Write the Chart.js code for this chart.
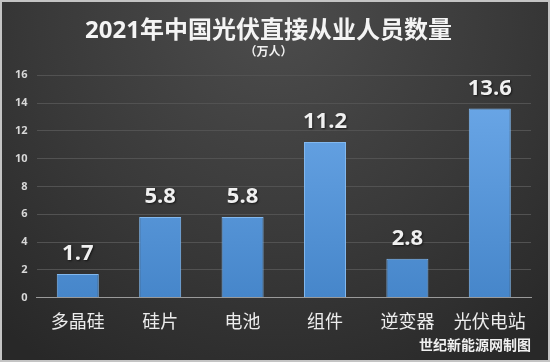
<!DOCTYPE html>
<html>
<head>
<meta charset="utf-8">
<script src="https://cdn.jsdelivr.net/npm/chart.js@4"></script>
<style>
  html, body { margin: 0; padding: 0; background: #d0d0d0; }
  #wrap { width: 550px; height: 362px; }
</style>
</head>
<body>
<div id="wrap"><canvas id="chart" width="550" height="362"></canvas></div>
<script>
// Data
const categories = ['多晶硅', '硅片', '电池', '组件', '逆变器', '光伏电站'];
const workers = [1.7, 5.8, 5.8, 11.2, 2.8, 13.6];
const yTicks = [0, 2, 4, 6, 8, 10, 12, 14, 16];

const FONT = '"Open Sans", "Noto Sans CJK SC", sans-serif';

// Dark radial background with light frame
const backgroundPlugin = {
    id: 'bg',
    beforeDraw(chart) {
        const c = chart.ctx;
        const w = chart.width, h = chart.height;
        c.save();
        c.fillStyle = '#c4c4c4';
        c.fillRect(0, 0, w, h);
        const g = c.createRadialGradient(w / 2, 10, 10, w / 2, 10, 420);
        g.addColorStop(0, '#4c4c4c');
        g.addColorStop(0.55, '#393939');
        g.addColorStop(1, '#282828');
        c.fillStyle = g;
        c.fillRect(2, 2, w - 4, h - 4);
        c.restore();
    }
};

// Value labels above each bar
const valueLabels = {
    id: 'valueLabels',
    afterDatasetsDraw(chart) {
        const c = chart.ctx;
        const meta = chart.getDatasetMeta(0);
        c.save();
        c.font = 'bold 22px ' + FONT;
        c.fillStyle = '#f0f0f0';
        c.textAlign = 'center';
        c.textBaseline = 'alphabetic';
        c.shadowColor = 'rgba(0,0,0,0.6)';
        c.shadowOffsetX = 1;
        c.shadowOffsetY = 1;
        c.shadowBlur = 2;
        meta.data.forEach((bar, i) => {
            c.fillText(workers[i].toFixed(1), bar.x, bar.y - 14);
        });
        c.restore();
    }
};

function barFill(context) {
    const area = context.chart.chartArea;
    if (!area) return '#5b9bd5';
    const g = context.chart.ctx.createLinearGradient(0, area.top, 0, area.bottom);
    g.addColorStop(0, '#6eaaea');
    g.addColorStop(1, '#4686ca');
    return g;
}

new Chart(document.getElementById('chart'), {
    type: 'bar',
    data: {
        labels: categories,
        datasets: [{
            data: workers,
            backgroundColor: barFill,
            borderColor: '#82b8ee',
            borderWidth: 1,
            barPercentage: 0.51,
            categoryPercentage: 1.0
        }]
    },
    plugins: [backgroundPlugin, valueLabels],
    options: {
        responsive: false,
        animation: false,
        devicePixelRatio: 1,
        layout: { padding: { top: 0, left: 6, right: 19, bottom: 6 } },
        plugins: {
            legend: { display: false },
            tooltip: { enabled: false },
            title: {
                display: true,
                text: '2021年中国光伏直接从业人员数量',
                color: '#f4f4f4',
                font: { family: FONT, size: 24, weight: 'bold' },
                padding: { top: 17, bottom: 0 }
            },
            subtitle: {
                display: true,
                text: '（万人）',
                color: '#f0f0f0',
                font: { family: FONT, size: 12, weight: 'bold' },
                padding: { top: 0, bottom: 15 }
            }
        },
        scales: {
            x: {
                grid: { display: false, drawTicks: false },
                border: { display: true, color: '#9a9a9a', width: 1 },
                ticks: {
                    color: '#ececec',
                    font: { family: FONT, size: 18 },
                    padding: 14
                },
                title: {
                    display: true,
                    text: '世纪新能源网制图',
                    align: 'end',
                    color: '#f0f0f0',
                    font: { family: FONT, size: 14, weight: 'bold' },
                    padding: { top: -10, bottom: 2 }
                }
            },
            y: {
                min: yTicks[0],
                max: yTicks[yTicks.length - 1],
                afterBuildTicks(scale) {
                    scale.ticks = yTicks.map(v => ({ value: v }));
                },
                grid: { color: '#525252', lineWidth: 1, drawTicks: false },
                border: { display: false },
                ticks: {
                    color: '#d8d8d8',
                    font: { family: FONT, size: 11, weight: 'bold' },
                    padding: 9
                }
            }
        }
    }
});
</script>
</body>
</html>
